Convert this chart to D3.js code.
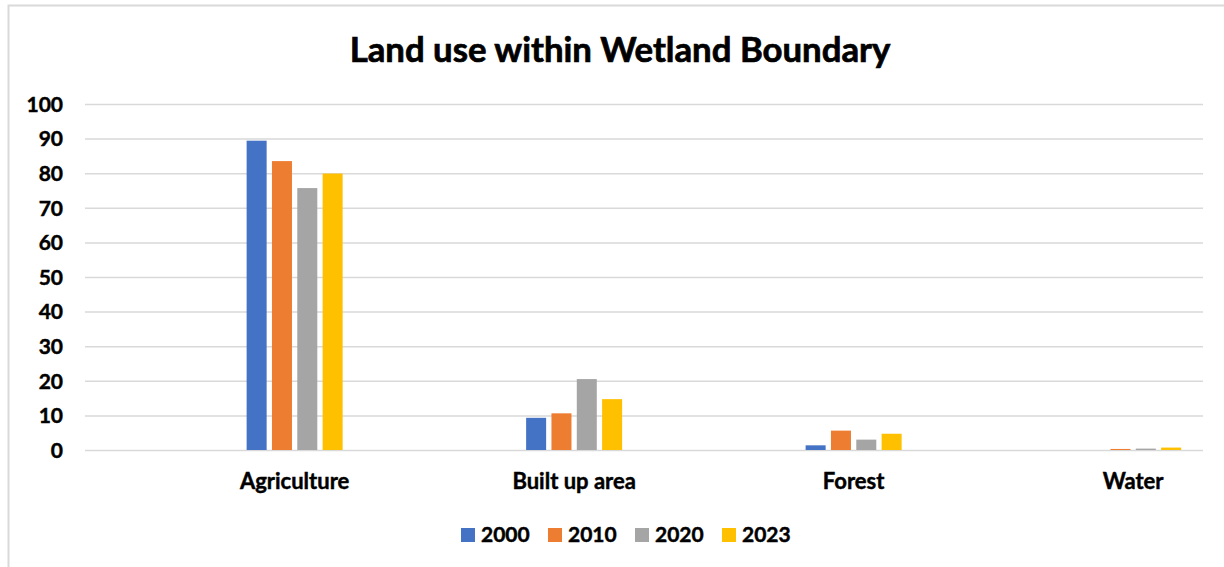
<!DOCTYPE html>
<html>
<head>
<meta charset="utf-8">
<script src="https://cdn.jsdelivr.net/npm/d3@7"></script>
<style>
  html, body { margin: 0; padding: 0; background: #fff; }
  svg { display: block; }
  text { font-family: Lato, "Open Sans", sans-serif; font-weight: bold; fill: #000; stroke: #000; stroke-width: 0.45px; }
</style>
</head>
<body>
<svg id="chart" width="1224" height="567"></svg>
<script>
const title = "Land use within Wetland Boundary";
const categories = ["Agriculture", "Built up area", "Forest", "Water"];
const seriesNames = ["2000", "2010", "2020", "2023"];
const values2000 = [89.4, 9.3, 1.35, 0];
const values2010 = [83.5, 10.6, 5.6, 0.3];
const values2020 = [75.7, 20.5, 3.0, 0.4];
const values2023 = [79.9, 14.7, 4.7, 0.7];
const yTicks = [0, 10, 20, 30, 40, 50, 60, 70, 80, 90, 100];
const colors = ["#4472C4", "#ED7D31", "#A5A5A5", "#FFC000"];

const seriesValues = [values2000, values2010, values2020, values2023];

const svg = d3.select("#chart");
const W = 1224, H = 567;

// chart border
svg.append("rect")
  .attr("x", 8.5).attr("y", 5.5)
  .attr("width", W).attr("height", H)
  .attr("fill", "none").attr("stroke", "#D9D9D9").attr("stroke-width", 2);

const plot = { left: 85, right: 1203, top: 104, bottom: 450 };

const y = d3.scaleLinear().domain([0, 100]).range([plot.bottom, plot.top]);

// category scale (groups sit a quarter band to the right, as in the reference)
const bandStep = (plot.right - plot.left) / categories.length;
const x0 = d3.scaleBand().domain(categories)
  .range([plot.left + bandStep / 4, plot.right + bandStep / 4]).padding(0);
const groupWidth = 96;
const x1 = d3.scaleBand().domain(seriesNames)
  .range([-groupWidth / 2, groupWidth / 2]).paddingInner(0.21).paddingOuter(0);

// gridlines
const yAxis = d3.axisLeft(y).tickValues(yTicks).tickSize(-(plot.right - plot.left)).tickPadding(22);
const gy = svg.append("g").attr("transform", `translate(${plot.left},0)`).call(yAxis);
gy.select(".domain").remove();
gy.selectAll(".tick line").attr("stroke", "#D9D9D9").attr("stroke-width", 1.5);
gy.selectAll(".tick text")
  .attr("font-size", 21).attr("font-family", "Lato, sans-serif")
  .attr("font-weight", "bold").attr("fill", "#000").attr("dy", "0.35em");

// bars
const groups = svg.append("g").selectAll("g")
  .data(categories)
  .join("g")
  .attr("transform", d => `translate(${x0(d) + x0.bandwidth() / 2},0)`);

groups.selectAll("rect")
  .data((c, ci) => seriesNames.map((s, si) => ({ s, si, v: seriesValues[si][ci] })))
  .join("rect")
  .attr("x", d => x1(d.s))
  .attr("width", x1.bandwidth())
  .attr("y", d => y(d.v))
  .attr("height", d => y(0) - y(d.v))
  .attr("fill", d => colors[d.si]);

// category labels
const xAxis = d3.axisBottom(x0).tickSize(0).tickPadding(23);
const gx = svg.append("g").attr("transform", `translate(0,${plot.bottom})`).call(xAxis);
gx.select(".domain").remove();
gx.selectAll(".tick text")
  .attr("font-size", 22).attr("font-family", "Lato, sans-serif")
  .attr("font-weight", "bold").attr("fill", "#000");

// title
const t = svg.append("text")
  .attr("x", 620).attr("y", 62)
  .attr("text-anchor", "middle")
  .attr("font-size", 32)
  .style("stroke-width", "0.7px")
  .text(title);
const tw = t.node().getComputedTextLength();
t.attr("font-size", 32 * 541 / tw);

// legend
const legendX = d3.scalePoint().domain(seriesNames).range([461, 722]);
const leg = svg.append("g").selectAll("g").data(seriesNames).join("g")
  .attr("transform", d => `translate(${legendX(d)},535)`);
leg.append("rect").attr("x", 0).attr("y", -7).attr("width", 14).attr("height", 14)
  .attr("fill", (d, i) => colors[i]);
leg.append("text").attr("x", 20).attr("dy", "0.35em").attr("font-size", 21).text(d => d);
</script>
</body>
</html>
